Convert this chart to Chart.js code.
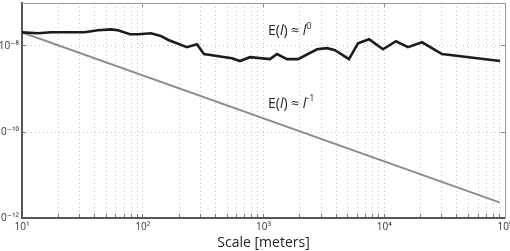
<!DOCTYPE html>
<html>
<head>
<meta charset="utf-8">
<script src="https://cdn.jsdelivr.net/npm/chart.js@4"></script>
<style>
html, body { margin: 0; padding: 0; background: #fff; }
</style>
</head>
<body>
<canvas id="grafico" width="510" height="251"></canvas>
<script>
// escala (metros) x energia medida
var escalas = [10, 13.6, 17.4, 24, 33, 42.5, 54.6, 62.4, 78.4, 91.4, 117, 141, 163, 232, 281, 321,
    548, 638, 773, 1132, 1294, 1566, 1932, 2775, 3357, 3911, 5105, 6067, 7482, 9772, 12510, 15730,
    20560, 30080, 91000];
var energiaMedida = [2.08e-8, 1.98e-8, 2.08e-8, 2.08e-8, 2.08e-8, 2.32e-8, 2.44e-8, 2.32e-8, 1.88e-8,
    1.88e-8, 1.98e-8, 1.72e-8, 1.38e-8, 9.4e-9, 1.10e-8, 6.5e-9, 5.2e-9, 4.46e-9, 5.5e-9, 4.96e-9,
    6.5e-9, 4.96e-9, 4.96e-9, 8.4e-9, 8.9e-9, 8.0e-9, 4.96e-9, 1.16e-8, 1.44e-8, 8.4e-9, 1.29e-8,
    9.4e-9, 1.22e-8, 6.5e-9, 4.46e-9];

// reta teorica E(l) ~ l^-1
var escalasTeoria = [10, 90000];
var energiaTeoria = [2.08e-8, 2.31e-12];

var decadasX = [10, 100, 1000, 10000, 100000];
var ticksY = [1e-12, 1e-10, 1e-8];

var rotulos = [
    { x: 1089, y: 2.2e-8, exp: '0' },
    { x: 1089, y: 4.5e-10, exp: '-1' }
];

var fonte = '"Open Sans", "DejaVu Sans", sans-serif';

var ticksX = [];
for (var d = 0; d < decadasX.length - 1; d++) {
    for (var m = 1; m < 10; m++) ticksX.push(m * decadasX[d]);
}
ticksX.push(decadasX[decadasX.length - 1]);

function sobrescrito(txt) {
    var mapa = { '-': '\u207B', '0': '\u2070', '1': '\u00B9', '2': '\u00B2', '3': '\u00B3', '4': '\u2074',
        '5': '\u2075', '6': '\u2076', '7': '\u2077', '8': '\u2078', '9': '\u2079' };
    return String(txt).split('').map(function(c) { return mapa[c] || c; }).join('');
}

function rotuloPotencia(v) {
    return '10' + sobrescrito(Math.round(Math.log10(v)));
}

function montaPontos(xs, ys) {
    return xs.map(function(x, i) { return { x: x, y: ys[i] }; });
}

var pluginRotulos = {
    id: 'rotulos',
    afterDatasetsDraw: function(chart) {
        var ctx = chart.ctx;
        ctx.save();
        ctx.fillStyle = '#222';
        ctx.textBaseline = 'middle';
        rotulos.forEach(function(r) {
            var px = chart.scales.x.getPixelForValue(r.x);
            var py = chart.scales.y.getPixelForValue(r.y);
            var partes = [
                { t: 'E(', f: '14px ' + fonte, dy: 0 },
                { t: 'l', f: 'italic 14px ' + fonte, dy: 0 },
                { t: ') \u2248 ', f: '14px ' + fonte, dy: 0 },
                { t: 'l', f: 'italic 14px ' + fonte, dy: 0 },
                { t: r.exp, f: '9px ' + fonte, dy: -5 }
            ];
            partes.forEach(function(p) {
                ctx.font = p.f;
                ctx.fillText(p.t, px, py + p.dy);
                px += ctx.measureText(p.t).width;
            });
        });
        ctx.restore();
    }
};

new Chart(document.getElementById('grafico'), {
    type: 'line',
    data: {
        datasets: [
            {
                label: 'Medido',
                data: montaPontos(escalas, energiaMedida),
                borderColor: '#1c1c1c',
                borderWidth: 2.6,
                pointRadius: 0,
                fill: false,
                tension: 0
            },
            {
                label: 'Teoria',
                data: montaPontos(escalasTeoria, energiaTeoria),
                borderColor: '#8c8c8c',
                borderWidth: 2,
                pointRadius: 0,
                fill: false,
                tension: 0
            }
        ]
    },
    options: {
        responsive: false,
        animation: false,
        devicePixelRatio: 1,
        layout: { padding: { left: 0, right: 5, top: 3, bottom: 0 } },
        plugins: { legend: { display: false }, tooltip: { enabled: false } },
        scales: {
            x: {
                type: 'logarithmic',
                position: 'bottom',
                min: 10,
                max: 100000,
                afterBuildTicks: function(s) { s.ticks = ticksX.map(function(v) { return { value: v }; }); },
                afterFit: function(s) { s.height = 33; s.paddingLeft = 0; s.paddingRight = 0; },
                ticks: {
                    autoSkip: false,
                    maxRotation: 0,
                    padding: 7,
                    color: '#333',
                    font: { size: 10, family: fonte },
                    callback: function(v) { return decadasX.indexOf(v) >= 0 ? rotuloPotencia(v) : ''; }
                },
                grid: { color: '#c6c6c6', lineWidth: 1, tickLength: -4, tickColor: '#777', tickWidth: 1 },
                border: { display: true, color: '#555', width: 2, dash: [1, 3] },
                title: { display: true, text: 'Scale [meters]', color: '#222', padding: 0,
                    font: { size: 14, family: fonte } }
            },
            y: {
                type: 'logarithmic',
                position: 'left',
                min: 1e-12,
                max: 1e-7,
                afterBuildTicks: function(s) { s.ticks = ticksY.map(function(v) { return { value: v }; }); },
                afterFit: function(s) { s.width = 22; s.paddingTop = 0; s.paddingBottom = 0; },
                ticks: {
                    padding: 7,
                    color: '#333',
                    font: { size: 10, family: fonte },
                    callback: function(v) { return rotuloPotencia(v); }
                },
                grid: { color: '#c6c6c6', lineWidth: 1, tickLength: -4, tickColor: '#777', tickWidth: 1 },
                border: { display: true, color: '#555', width: 2, dash: [1, 3] }
            },
            x2: {
                type: 'logarithmic',
                position: 'top',
                min: 10,
                max: 100000,
                afterBuildTicks: function(s) { s.ticks = decadasX.map(function(v) { return { value: v }; }); },
                afterFit: function(s) { s.height = 0; s.paddingLeft = 0; s.paddingRight = 0; },
                ticks: { display: false },
                grid: { drawOnChartArea: false, tickLength: -4, tickColor: '#888' },
                border: { display: true, color: '#999', width: 1 }
            },
            y2: {
                type: 'logarithmic',
                position: 'right',
                min: 1e-12,
                max: 1e-7,
                afterBuildTicks: function(s) { s.ticks = ticksY.map(function(v) { return { value: v }; }); },
                afterFit: function(s) { s.width = 0; s.paddingTop = 0; s.paddingBottom = 0; },
                ticks: { display: false },
                grid: { drawOnChartArea: false, tickLength: -4, tickColor: '#888' },
                border: { display: true, color: '#999', width: 1 }
            }
        }
    },
    plugins: [pluginRotulos]
});
</script>
</body>
</html>
